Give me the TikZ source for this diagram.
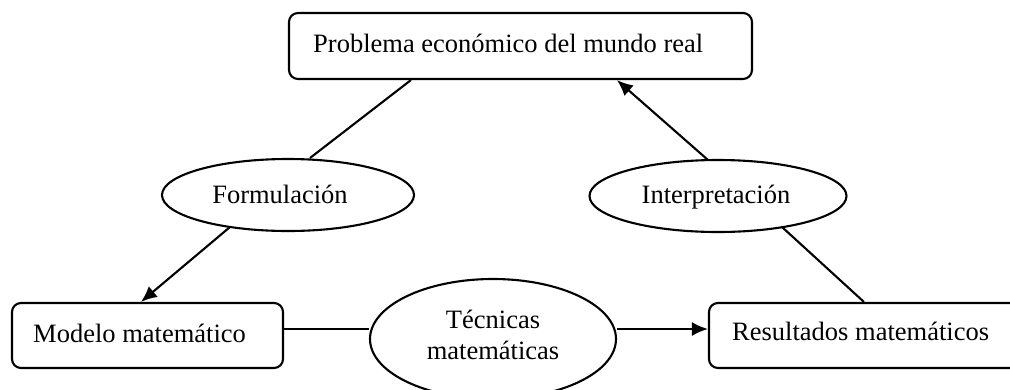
\documentclass[tikz,border=0pt]{standalone}
\usepackage{fontspec}
\setmainfont{Liberation Serif}
\usetikzlibrary{arrows.meta,calc,shapes.geometric}
\tikzset{
  box/.style={draw, line width=2.1pt, rounded corners=9pt, inner sep=0pt},
  oval/.style={draw, line width=2.1pt, ellipse, inner sep=0pt},
  txt/.style={inner sep=0pt, font=\fontsize{26.5}{31}\selectfont},
  conn/.style={line width=2.1pt},
  arr/.style={line width=2.1pt, -{Latex[length=16pt,width=14pt]}}
}
\begin{document}
\begin{tikzpicture}[x=1pt,y=-1pt]
\useasboundingbox (0,0) rectangle (1010,389);
\clip (0,0) rectangle (1010,389);
% boxes
\node[box, minimum width=463pt, minimum height=66pt] (top) at (520.5,46) {};
\node[txt, anchor=base west] (toptxt) at (313,52) {Problema económico del mundo real};
\node[box, minimum width=271pt, minimum height=65pt] (M) at (147.5,335.5) {};
\node[txt, anchor=base west] (Mtxt) at (33,342) {Modelo matemático};
\node[box, minimum width=321pt, minimum height=65pt] (R) at (869.5,335.5) {};
\node[txt, anchor=base west] (Rtxt) at (732,340) {Resultados matemáticos};
% ellipses
\node[oval, minimum width=252pt, minimum height=72pt] (F) at (288,195) {};
\node[txt, anchor=base] (Ftxt) at (280,203) {Formulación};
\node[oval, minimum width=257pt, minimum height=72pt] (I) at (718,196) {};
\node[txt, anchor=base] (Itxt) at (716,203) {Interpretación};
\node[oval, minimum width=246pt, minimum height=120pt] (T) at (493,339) {};
\node[txt, anchor=base] (T1) at (493,328) {Técnicas};
\node[txt, anchor=base] (T2) at (493,359) {matemáticas};
% connectors
\draw[conn] ($(top.south west)+(123,0)$) -- ($(F.center)+(22,-37)$);
\draw[arr] ($(F.center)+(-58,32)$) -- ($(M.north west)+(130,0)$);
\draw[arr] ($(I.center)+(-10,-36)$) -- ($(top.south west)+(329,0)$);
\draw[conn] ($(R.north west)+(156,0)$) -- ($(I.center)+(64,31)$);
\draw[conn] ($(M.east)+(0,-6.5)$) -- ($(T.west)+(0,-10)$);
\draw[arr] ($(T.east)+(0,-10)$) -- ($(R.west)+(0,-6.5)$);
\end{tikzpicture}
\end{document}
